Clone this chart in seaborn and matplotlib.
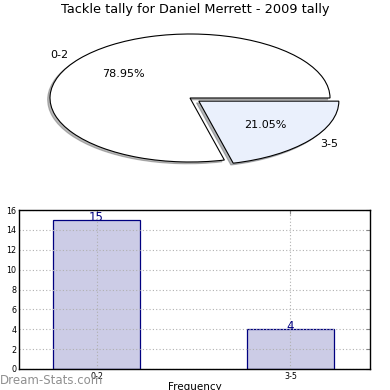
import matplotlib
matplotlib.use("Agg")
import matplotlib.pyplot as plt
import seaborn as sns
import pandas as pd

# data
categories = ["0-2", "3-5"]
counts = [15, 4]
pie_colors = ["#ffffff", "#eaf0fc"]
explode = [0, 0.08]

sns.set_style("white")
plt.rcParams['font.family'] = ['DejaVu Sans']
plt.rcParams['text.color'] = 'black'
plt.rcParams['xtick.labelcolor'] = 'black'
plt.rcParams['ytick.labelcolor'] = 'black'
plt.rcParams['axes.labelcolor'] = 'black'

fig = plt.figure(figsize=(3.9, 3.9), dpi=100)

# --- pie (stretched, not equal aspect) ---
ax_pie = fig.add_axes([15 / 390, 1 - 178 / 390, 350 / 390, 160 / 390])
wedges, texts, autotexts = ax_pie.pie(
    counts, labels=categories, colors=pie_colors, explode=explode,
    autopct="%.2f%%", shadow={"ox": -0.012, "oy": -0.02, "shade": 0.55},
    startangle=0, labeldistance=1.1, pctdistance=0.6,
    wedgeprops=dict(edgecolor="black", linewidth=0.8),
    textprops=dict(fontsize=8),
)
ax_pie.set_aspect("auto")
ax_pie.set_xlim(-1.25, 1.25)
ax_pie.set_ylim(-1.25, 1.25)
ax_pie.axis("off")

fig.text(0.5, 1 - 10 / 390, "Tackle tally for Daniel Merrett - 2009 tally",
         ha="center", va="center", fontsize=9.3)

# --- bar chart ---
ax_bar = fig.add_axes([19 / 390, 1 - 369 / 390, 351 / 390, 159 / 390])
df = pd.DataFrame({"cat": categories, "val": counts})
sns.barplot(data=df, x="cat", y="val", ax=ax_bar, width=0.45,
            color="#ccccE6", saturation=1, edgecolor="navy", linewidth=0.9)
ax_bar.bar_label(ax_bar.containers[0], color="navy", fontsize=8.5, padding=-3)
ax_bar.set_xlim(-0.4, 1.41)
ax_bar.set_ylim(0, 16)
ax_bar.set_yticks(range(0, 17, 2))
ax_bar.grid(True, linestyle=(0, (1, 2)), color="#b0b0b0", linewidth=0.8)
ax_bar.set_axisbelow("line")
for s in ax_bar.spines.values():
    s.set_visible(True)
    s.set_color("black")
    s.set_linewidth(1)
ax_bar.tick_params(axis="both", labelsize=5.8, direction="in", length=3,
                   color="#888888", right=True, top=True, pad=2)
ax_bar.set_xlabel("Frequency", fontsize=7.5, labelpad=1)
ax_bar.set_ylabel("Total Tackle Tally", fontsize=7)
ax_bar.yaxis.set_label_coords(-0.052, 0.5)

fig.text(0.0, 1 - 380 / 390, "Dream-Stats.com", color="#909090",
         fontsize=8.5, ha="left", va="center")

fig.savefig("out.png", dpi=100)
